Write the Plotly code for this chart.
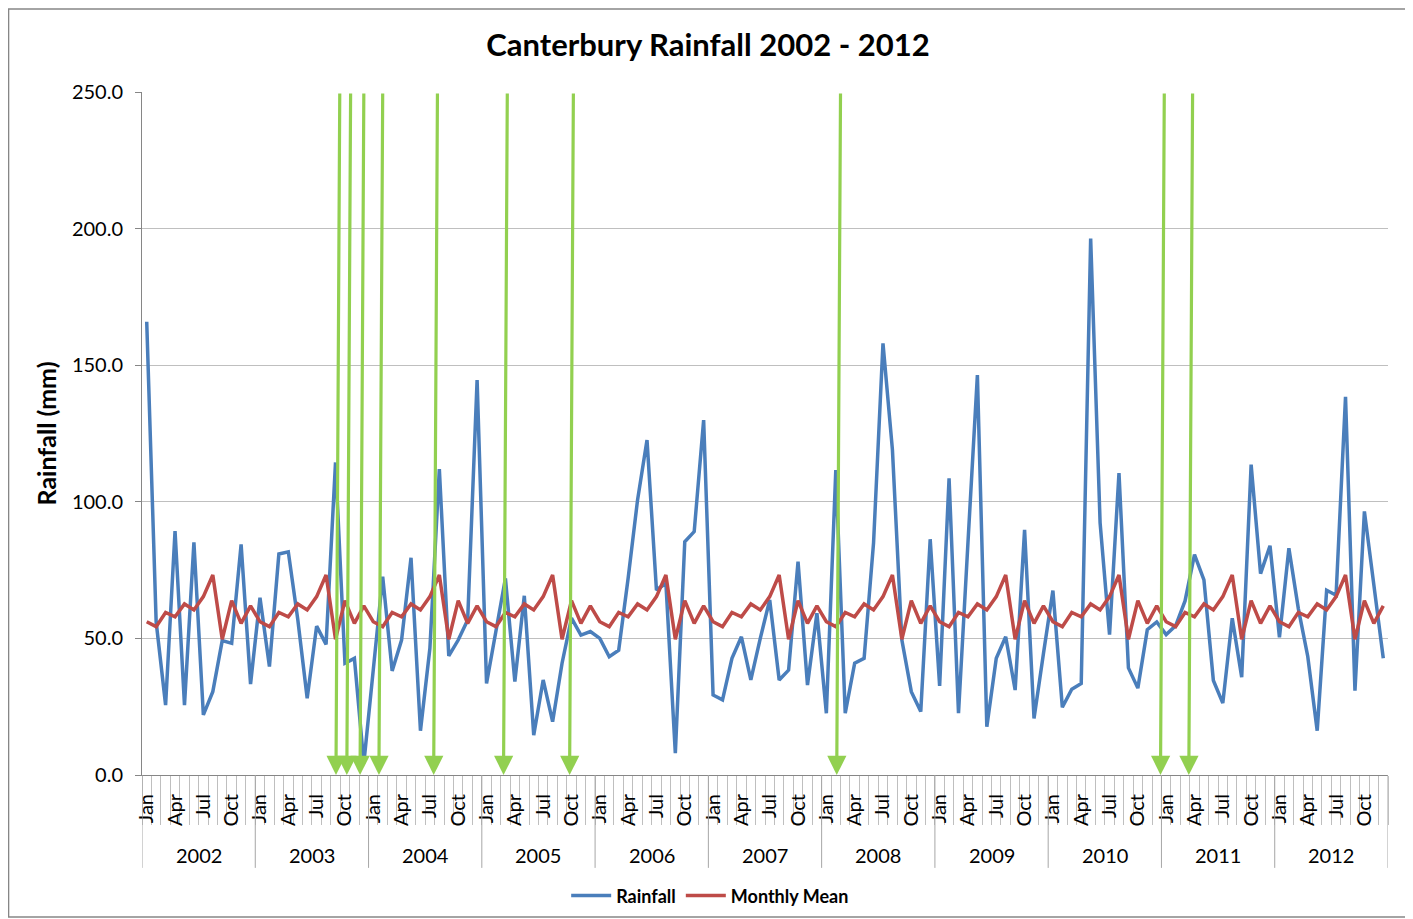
import plotly.graph_objects as go


#
# Chart data
#

YEARS = ["2002", "2003", "2004", "2005", "2006", "2007", "2008", "2009", "2010", "2011", "2012"]
MONTHS = ["Jan", "Feb", "Mar", "Apr", "May", "Jun", "Jul", "Aug", "Sep", "Oct", "Nov", "Dec"]
SHOWN_MONTHS = ["Jan", "Apr", "Jul", "Oct"]

# Monthly rainfall (mm), Jan 2002 .. Dec 2012
RAINFALL = [
    165.9, 56.0, 25.6, 89.3, 25.6, 85.2, 22.0, 30.5, 49.2, 48.2, 84.4, 33.3,
    64.9, 39.7, 80.9, 81.7, 57.0, 28.1, 54.5, 47.8, 114.4, 40.9, 42.7, 4.3,
    38.5, 72.6, 38.1, 49.4, 79.5, 16.2, 46.4, 112.0, 43.6, 49.4, 56.7, 144.6,
    33.5, 52.0, 72.0, 34.2, 65.6, 14.6, 34.8, 19.5, 40.9, 57.4, 51.2, 52.5,
    50.0, 43.3, 45.7, 72.0, 100.7, 122.6, 67.7, 70.2, 8.0, 85.4, 89.1, 129.9,
    29.3, 27.5, 42.7, 50.6, 34.8, 50.0, 64.1, 34.8, 38.4, 78.1, 32.9, 59.2,
    22.6, 111.6, 22.6, 40.9, 42.7, 85.0, 158.0, 119.0, 49.4, 30.5, 23.2, 86.3,
    32.6, 108.6, 22.6, 85.0, 146.4, 17.7, 42.7, 50.6, 31.1, 89.7, 20.7, 44.5,
    67.5, 24.8, 31.4, 33.5, 196.4, 92.3, 51.4, 110.5, 39.2, 31.8, 53.2, 56.0,
    51.4, 54.6, 63.7, 80.7, 71.4, 34.6, 26.3, 57.4, 35.8, 113.6, 73.7, 83.9,
    50.4, 83.0, 60.9, 43.4, 16.2, 67.6, 65.8, 138.4, 30.9, 96.5, 69.0, 42.7,
]

# Long term mean for each calendar month (mm), repeated every year in the chart
MONTHLY_MEAN = [56.1, 54.3, 59.5, 57.9, 62.6, 60.4, 65.3, 73.2, 49.7, 63.8, 55.5, 61.9]

# Event markers (green arrows), as month index where the arrow tip lands
EVENT_MONTHS = [20.05, 21.2, 22.6, 24.6, 30.4, 37.8, 44.8, 73.1, 107.4, 110.4]


#
# Styling
#

FONT = "Lato"
BLUE = "#4A7EBB"
RED = "#BE4B48"
GREEN = "#92D050"
AXIS_GREY = "#868686"
GRID_GREY = "#BFBFBF"

# the page body adds an 8px margin, so the figure is sized to fit the window
FIG_W, FIG_H = 1405, 911
MARGIN = dict(l=134, r=25, t=84, b=144, autoexpand=False)

month_index = list(range(len(YEARS) * len(MONTHS)))
mean_series = MONTHLY_MEAN * len(YEARS)

tick_vals = [i for i in month_index if MONTHS[i % 12] in SHOWN_MONTHS]
tick_text = [MONTHS[i % 12] for i in tick_vals]

fig = go.Figure()

fig.add_trace(go.Scatter(
    x=month_index, y=RAINFALL, name="Rainfall",
    mode="lines", line=dict(color=BLUE, width=3.5),
))
fig.add_trace(go.Scatter(
    x=month_index, y=mean_series, name="Monthly Mean",
    mode="lines", line=dict(color=RED, width=3.5),
))

# Year dividers and year labels under the month labels
shapes = []
annotations = []
for k, year in enumerate(YEARS):
    shapes.append(dict(type="line", xref="x", yref="paper",
                       x0=12 * k - 0.5, x1=12 * k - 0.5, y0=0, y1=-0.136,
                       line=dict(color="#A6A6A6", width=1)))
    annotations.append(dict(xref="x", yref="paper", x=12 * k + 5.5, y=-0.117,
                            text=year, showarrow=False, yanchor="middle",
                            font=dict(family=FONT, size=20, color="#000000")))
shapes.append(dict(type="line", xref="x", yref="paper",
                   x0=len(month_index) - 0.5, x1=len(month_index) - 0.5, y0=0, y1=-0.136,
                   line=dict(color="#A6A6A6", width=1)))

# Outer chart border
shapes.append(dict(type="rect", xref="paper", yref="paper",
                   x0=-0.1071, x1=1.0169, y0=-0.2079, y1=1.1215,
                   line=dict(color=AXIS_GREY, width=1.5)))

# Green event arrows, slightly slanted like the hand drawn originals
for m in EVENT_MONTHS:
    annotations.append(dict(xref="x", yref="y", axref="x", ayref="y",
                            x=m, y=0, ax=m + 0.4, ay=250, text="",
                            showarrow=True, arrowhead=2, arrowsize=1.2,
                            arrowwidth=3.2, arrowcolor=GREEN, standoff=0))

fig.update_layout(
    width=FIG_W, height=FIG_H,
    paper_bgcolor="white", plot_bgcolor="white",
    margin=MARGIN,
    font=dict(family=FONT, color="#000000"),
    title=dict(text="<b>Canterbury Rainfall 2002 - 2012</b>", x=(708 - 8) / FIG_W, xanchor="center",
               y=1 - 37 / FIG_H, yanchor="middle", font=dict(family=FONT, size=31)),
    showlegend=True,
    legend=dict(orientation="h", x=0.456, xanchor="center", y=-0.177, yanchor="middle",
                font=dict(family=FONT, size=18, weight="bold"), itemwidth=40,
                bgcolor="rgba(0,0,0,0)"),
    shapes=shapes,
    annotations=annotations,
)

fig.update_xaxes(
    range=[-0.5, len(month_index) - 0.5],
    showgrid=False, zeroline=False,
    showline=True, linecolor=AXIS_GREY, linewidth=1,
    tickmode="array", tickvals=tick_vals, ticktext=tick_text,
    tickangle=-90, ticks="", ticklabelstandoff=10,
    tickfont=dict(family=FONT, size=20),
    minor=dict(tickmode="linear", tick0=-0.5, dtick=1, ticks="outside",
               ticklen=49, tickcolor=GRID_GREY, tickwidth=1, showgrid=False),
)

fig.update_yaxes(
    range=[0, 250], dtick=50, tickformat=".1f",
    showgrid=True, gridcolor=GRID_GREY, gridwidth=1, zeroline=False,
    showline=True, linecolor=AXIS_GREY, linewidth=1,
    ticks="outside", ticklen=6, tickcolor=AXIS_GREY, ticklabelstandoff=8,
    tickfont=dict(family=FONT, size=20),
    title=dict(text="<b>Rainfall (mm)</b>", font=dict(family=FONT, size=25), standoff=8),
)

fig.write_html("out.html")
